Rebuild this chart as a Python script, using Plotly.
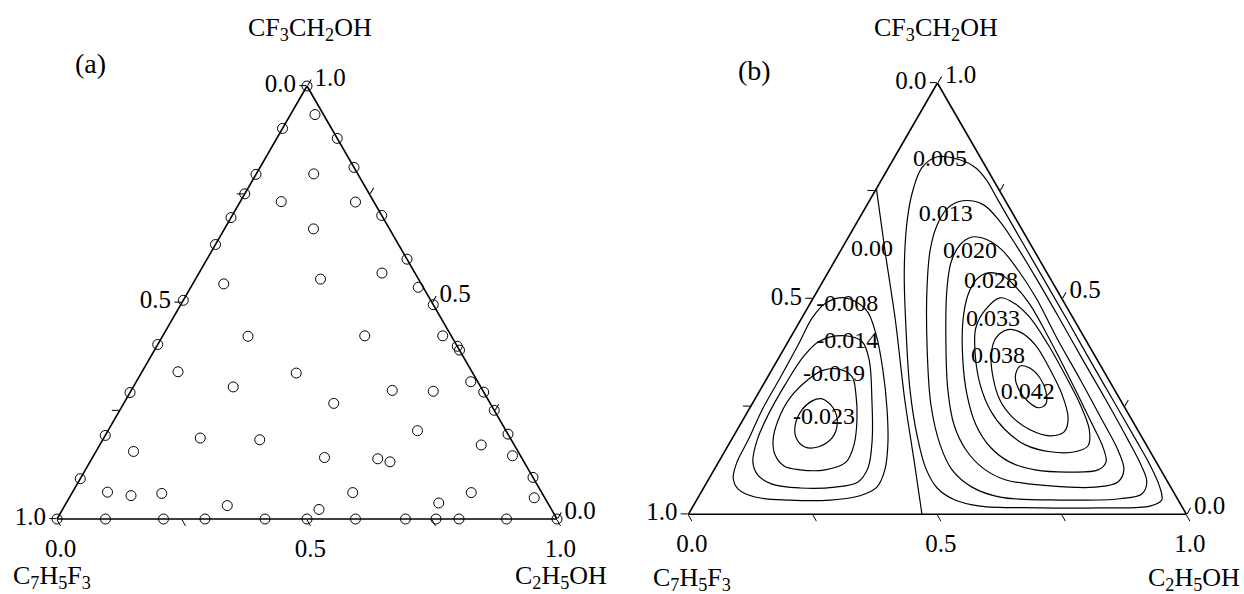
import plotly.graph_objects as go

FONT = "Liberation Serif"

# ---------------- Panel (a): measured compositions (mole fractions) ----------------
# a = CF3CH2OH (top), c = C2H5OH (bottom right), b = C7H5F3 (bottom left)
a_exp = [1.000, 0.934, 0.902, 0.879, 0.812, 0.796, 0.797, 0.751, 0.733, 0.732,
         0.696, 0.701, 0.670, 0.634, 0.600, 0.568, 0.554, 0.543, 0.535, 0.505,
         0.495, 0.422, 0.423, 0.423, 0.399, 0.390, 0.403, 0.340, 0.337, 0.305,
         0.297, 0.295, 0.317, 0.293, 0.251, 0.267, 0.292, 0.204, 0.196, 0.193,
         0.187, 0.183, 0.156, 0.142, 0.139, 0.132, 0.171, 0.146, 0.096, 0.093,
         0.062, 0.054, 0.059, 0.061, 0.061, 0.049, 0.031, 0.022, 0.037,
         0.0, 0.0, 0.0, 0.0, 0.0, 0.0, 0.0, 0.0, 0.0, 0.0, 0.0, 0.0]
c_exp = [0.000, 0.049, 0.000, 0.121, 0.188, 0.000, 0.115, 0.000, 0.082, 0.231,
         0.000, 0.299, 0.178, 0.000, 0.400, 0.366, 0.250, 0.062, 0.455, 0.000,
         0.505, 0.171, 0.404, 0.560, 0.601, 0.610, 0.000, 0.072, 0.310, 0.200,
         0.522, 0.605, 0.669, 0.707, 0.749, 0.420, 0.000, 0.619, 0.804, 0.000,
         0.193, 0.314, 0.075, 0.464, 0.572, 0.600, 0.763, 0.838, 0.904, 0.000,
         0.070, 0.121, 0.180, 0.561, 0.798, 0.930, 0.325, 0.513, 0.745,
         0.000, 0.097, 0.213, 0.296, 0.416, 0.500, 0.597, 0.697, 0.758, 0.804, 0.899, 1.000]

# ---------------- Panel (b): iso-lines (a = CF3CH2OH, c = C2H5OH) ----------------
zero_a = [0.755, 0.613, 0.451, 0.265, 0.126, 0.000]
zero_c = [0.000, 0.088, 0.190, 0.302, 0.390, 0.469]

n008_a = [0.502, 0.474, 0.416, 0.335, 0.242, 0.161, 0.103, 0.063, 0.043, 0.033, 0.033,
          0.040, 0.059, 0.084, 0.121, 0.172, 0.242, 0.316, 0.393, 0.456, 0.490]
n008_c = [0.064, 0.120, 0.169, 0.223, 0.278, 0.320, 0.343, 0.347, 0.323, 0.268, 0.187,
          0.114, 0.070, 0.048, 0.037, 0.034, 0.027, 0.026, 0.024, 0.021, 0.031]

n014_a = [0.414, 0.400, 0.358, 0.265, 0.172, 0.107, 0.075, 0.063, 0.061, 0.070, 0.091,
          0.121, 0.172, 0.230, 0.300, 0.365, 0.402]
n014_c = [0.108, 0.149, 0.184, 0.236, 0.283, 0.307, 0.303, 0.263, 0.194, 0.133, 0.094,
          0.069, 0.052, 0.045, 0.044, 0.048, 0.063]

n019_a = [0.337, 0.319, 0.277, 0.219, 0.161, 0.121, 0.103, 0.103, 0.112, 0.138, 0.172,
          0.219, 0.270, 0.312, 0.333]
n019_c = [0.132, 0.169, 0.198, 0.229, 0.252, 0.256, 0.223, 0.173, 0.136, 0.105, 0.084,
          0.071, 0.069, 0.084, 0.102]

n023_a = [0.268, 0.247, 0.212, 0.177, 0.156, 0.156, 0.177, 0.207, 0.242, 0.263]
n023_c = [0.133, 0.167, 0.193, 0.200, 0.182, 0.156, 0.128, 0.111, 0.107, 0.117]

p005_a = [0.829, 0.822, 0.804, 0.776, 0.729, 0.636, 0.544, 0.451, 0.358, 0.265, 0.172,
          0.114, 0.063, 0.033, 0.019, 0.015, 0.015, 0.019, 0.033, 0.061, 0.107, 0.184,
          0.288, 0.428, 0.567, 0.683, 0.752, 0.804]
p005_c = [0.085, 0.134, 0.174, 0.210, 0.257, 0.350, 0.442, 0.535, 0.627, 0.720, 0.813,
          0.870, 0.915, 0.934, 0.917, 0.819, 0.699, 0.576, 0.519, 0.469, 0.423, 0.367,
          0.301, 0.223, 0.150, 0.098, 0.075, 0.067]

p013_a = [0.727, 0.718, 0.678, 0.623, 0.544, 0.451, 0.358, 0.265, 0.172, 0.114, 0.075,
          0.047, 0.036, 0.033, 0.040, 0.063, 0.103, 0.161, 0.254, 0.381, 0.520, 0.613,
          0.671, 0.711]
p013_c = [0.188, 0.233, 0.287, 0.347, 0.428, 0.521, 0.613, 0.706, 0.797, 0.852, 0.883,
          0.887, 0.849, 0.730, 0.606, 0.538, 0.478, 0.425, 0.360, 0.289, 0.219, 0.179,
          0.164, 0.166]

p020_a = [0.643, 0.636, 0.613, 0.567, 0.502, 0.404, 0.312, 0.219, 0.149, 0.103, 0.075,
          0.063, 0.066, 0.080, 0.107, 0.149, 0.207, 0.288, 0.404, 0.520, 0.585, 0.625]
p020_c = [0.248, 0.283, 0.323, 0.378, 0.447, 0.540, 0.631, 0.721, 0.788, 0.823, 0.825,
          0.785, 0.693, 0.596, 0.538, 0.483, 0.430, 0.377, 0.315, 0.259, 0.235, 0.233]

p028_a = [0.560, 0.553, 0.527, 0.486, 0.404, 0.312, 0.219, 0.154, 0.121, 0.103, 0.098,
          0.103, 0.121, 0.156, 0.207, 0.277, 0.358, 0.451, 0.509, 0.544]
p028_c = [0.322, 0.355, 0.394, 0.443, 0.524, 0.611, 0.697, 0.756, 0.778, 0.771, 0.717,
          0.645, 0.585, 0.528, 0.474, 0.421, 0.372, 0.326, 0.307, 0.306]

p033_a = [0.502, 0.488, 0.456, 0.393, 0.323, 0.254, 0.196, 0.159, 0.145, 0.145, 0.161,
          0.196, 0.242, 0.300, 0.370, 0.432, 0.474]
p033_c = [0.375, 0.412, 0.458, 0.526, 0.595, 0.660, 0.707, 0.723, 0.704, 0.654, 0.596,
          0.538, 0.485, 0.436, 0.391, 0.361, 0.359]

p038_a = [0.428, 0.423, 0.393, 0.335, 0.277, 0.223, 0.191, 0.182, 0.196, 0.226, 0.265,
          0.316, 0.370, 0.409]
p038_c = [0.428, 0.454, 0.500, 0.559, 0.612, 0.651, 0.659, 0.635, 0.588, 0.537, 0.493,
          0.454, 0.423, 0.413]

p042_a = [0.344, 0.339, 0.316, 0.284, 0.256, 0.247, 0.261, 0.288, 0.319]
p042_c = [0.494, 0.516, 0.548, 0.576, 0.590, 0.579, 0.552, 0.520, 0.497]

level_text = ["0.005", "0.013", "0.020", "0.00", "0.028", "0.033", "0.038", "0.042",
              "-0.008", "-0.014", "-0.019", "-0.023"]
level_a = [0.822, 0.694, 0.609, 0.613, 0.539, 0.451, 0.365, 0.281, 0.486, 0.400, 0.323, 0.223]
level_c = [0.094, 0.170, 0.261, 0.062, 0.338, 0.386, 0.439, 0.541, 0.076, 0.119, 0.131, 0.161]

tick_vals = [0, 0.25, 0.5, 0.75, 1.0]
tick_text = ["1.0", " ", "0.5", " ", "0.0"]

# ---------------------------------------------------------------------------
def closure(a, c):
    return [max(0.0, round(1 - x - y, 4)) for x, y in zip(a, c)]

fig = go.Figure()

fig.add_trace(go.Scatterternary(
    a=a_exp, b=closure(a_exp, c_exp), c=c_exp, mode="markers", subplot="ternary",
    marker=dict(symbol="circle-open", size=10, color="black", line=dict(width=1, color="black")),
    cliponaxis=False, showlegend=False, hoverinfo="skip"))

fig.add_trace(go.Scatterternary(
    a=zero_a, b=closure(zero_a, zero_c), c=zero_c, mode="lines", subplot="ternary2",
    line=dict(color="black", width=1.2, shape="spline", smoothing=0.8),
    cliponaxis=False, showlegend=False, hoverinfo="skip"))

loops = [(n008_a, n008_c), (n014_a, n014_c), (n019_a, n019_c), (n023_a, n023_c),
         (p005_a, p005_c), (p013_a, p013_c), (p020_a, p020_c), (p028_a, p028_c),
         (p033_a, p033_c), (p038_a, p038_c), (p042_a, p042_c)]
for la, lc in loops:
    aa = la + la[:1]
    cc = lc + lc[:1]
    fig.add_trace(go.Scatterternary(
        a=aa, b=closure(aa, cc), c=cc, mode="lines", subplot="ternary2",
        line=dict(color="black", width=1.2, shape="spline", smoothing=1.0),
        cliponaxis=False, showlegend=False, hoverinfo="skip"))

fig.add_trace(go.Scatterternary(
    a=level_a, b=closure(level_a, level_c), c=level_c, mode="text", subplot="ternary2",
    text=level_text, textposition="middle center",
    textfont=dict(family=FONT, size=24, color="black"),
    cliponaxis=False, showlegend=False, hoverinfo="skip"))


def tern_axis():
    return dict(min=0, tickmode="array", tickvals=tick_vals, ticktext=tick_text,
                ticks="outside", ticklen=7, tickwidth=1.2, tickcolor="black",
                linecolor="black", linewidth=1.6, showgrid=False, showline=True,
                tickfont=dict(family=FONT, size=25, color="black"),
                title=dict(text=""))


def tern(xd, yd):
    return dict(domain=dict(x=xd, y=yd), sum=1, bgcolor="white",
                aaxis=tern_axis(), baxis=tern_axis(), caxis=tern_axis())


W, H = 1244, 594


def ann(text, px, py, size=26):
    return dict(text=text, x=px / W, y=1 - py / H, xref="paper", yref="paper",
                showarrow=False, xanchor="center", yanchor="middle",
                font=dict(family=FONT, size=size, color="black"))


fig.update_layout(
    width=W, height=H, margin=dict(l=0, r=0, t=0, b=0),
    paper_bgcolor="white", plot_bgcolor="white",
    ternary=tern([57 / W, 557 / W], [(H - 519) / H, (H - 86) / H]),
    ternary2=tern([688.4 / W, 1186.4 / W], [(H - 514.3) / H, (H - 83) / H]),
    annotations=[
        ann("CF<sub>3</sub>CH<sub>2</sub>OH", 310, 29),
        ann("CF<sub>3</sub>CH<sub>2</sub>OH", 936, 29),
        ann("C<sub>7</sub>H<sub>5</sub>F<sub>3</sub>", 52, 577),
        ann("C<sub>2</sub>H<sub>5</sub>OH", 561, 577),
        ann("C<sub>7</sub>H<sub>5</sub>F<sub>3</sub>", 692, 579),
        ann("C<sub>2</sub>H<sub>5</sub>OH", 1194, 579),
        ann("(a)", 90, 64, 28),
        ann("(b)", 754, 70, 28),
    ],
)

fig.write_html("out.html")
